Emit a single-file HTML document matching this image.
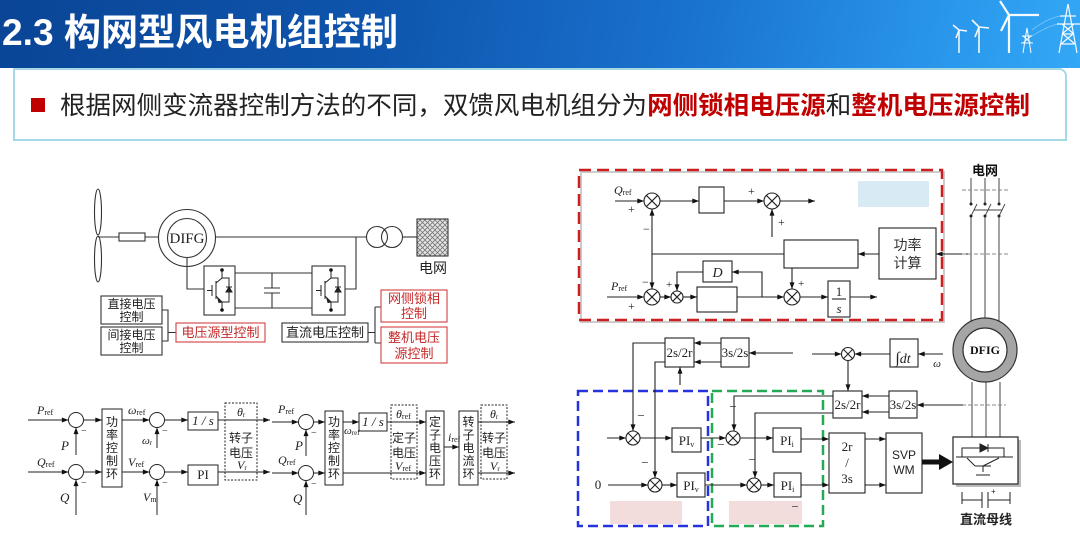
<!DOCTYPE html>
<html><head><meta charset="utf-8">
<style>
html,body{margin:0;padding:0;width:1080px;height:547px;overflow:hidden;background:#fff;}
.hdr{position:absolute;left:0;top:0;width:1080px;height:68px;background:linear-gradient(100deg,#0a4596 0%,#0e55ad 35%,#1a74d0 65%,#2a98ec 88%,#33a8f6 100%);}
.sub{position:absolute;left:13px;top:68px;width:1054px;height:73px;border:2px solid #a6d9e8;border-top-right-radius:8px;background:#fff;box-sizing:border-box;}
svg{position:absolute;left:0;top:0;}
</style></head><body>
<div class="hdr"></div>
<div class="sub"></div>
<svg width="1080" height="547" viewBox="0 0 1080 547" xmlns="http://www.w3.org/2000/svg">
<defs>
<marker id="a" viewBox="0 0 8 6" refX="8" refY="3" markerWidth="7" markerHeight="5" orient="auto" markerUnits="userSpaceOnUse"><path d="M0,0L8,3L0,6z" fill="#111"/></marker>
<pattern id="hatch" width="5" height="5" patternUnits="userSpaceOnUse"><rect width="5" height="5" fill="#e4e4e4"/><path d="M0,0L5,5M5,0L0,5" stroke="#777" stroke-width="0.8"/></pattern>
<g id="conv" fill="none" stroke="#222" stroke-width="1">
<path d="M18,4V12L12,17M12,15V33M12,30L18,36V44M8,19V30M3,24.5H8M18,12H25V36H18M22,21H28"/>
<path d="M22,26H28L25,21z" fill="#222"/>
<path d="M14,33L18,36L15,36.5z" fill="#222"/>
<circle cx="18" cy="4" r="1.8" fill="#111" stroke="none"/>
<circle cx="18" cy="44" r="1.8" fill="#111" stroke="none"/>
</g>
</defs>

<!-- header icons -->
<g stroke="#fff" fill="none" opacity="0.95">
<path d="M959,30V53M959,30L953,25M959,30L967,31M959,30L956,38" stroke-width="1.5"/>
<path d="M979,27V53M979,27L972,20M979,27L989,28M979,27L975,37" stroke-width="1.6"/>
<path d="M1009,15V53M1009,15L1000,1M1009,15L1039,15M1009,15L1001,31" stroke-width="2.2"/>
<path d="M1027,28L1023,53M1027,28L1031,53M1022,36H1032M1021,43H1033M1023,36L1031,43M1031,36L1023,43" stroke-width="1"/>
<path d="M1068,4L1059,53M1068,4L1077,53M1060,16H1076M1057,24H1080M1063,34H1073M1061,44H1075M1063,34L1075,44M1073,34L1061,44M1062,24L1074,34M1074,24L1062,34" stroke-width="1.2"/>
<path d="M1032,30Q1048,18 1060,16M1032,36Q1048,26 1058,24" stroke-width="0.6" opacity="0.6"/>
</g>

<!-- title -->
<text x="2" y="45" font-family="Liberation Sans,Noto Sans CJK SC,sans-serif" font-size="37" font-weight="bold" fill="#fff" textLength="396" lengthAdjust="spacingAndGlyphs">2.3 构网型风电机组控制</text>
<!-- subtitle -->
<rect x="31" y="98" width="14" height="14" fill="#c00000"/>
<text x="60" y="114" font-family="Liberation Sans,Noto Sans CJK SC,sans-serif" font-size="25" fill="#222" textLength="970" lengthAdjust="spacingAndGlyphs">根据网侧变流器控制方法的不同，双馈风电机组分为<tspan fill="#c00000" font-weight="bold">网侧锁相电压源</tspan>和<tspan fill="#c00000" font-weight="bold">整机电压源控制</tspan></text>

<!-- ===== top-left DFIG system ===== -->
<g fill="none" stroke="#333" stroke-width="1.1">
<ellipse cx="98" cy="212" rx="3.5" ry="23" fill="#fff"/>
<ellipse cx="98" cy="259" rx="3.5" ry="23" fill="#fff"/>
<path d="M98,237H119M145,237H159"/>
<rect x="119" y="233" width="26" height="8" fill="#fff"/>
<circle cx="187" cy="238" r="28.5" fill="#fff"/>
<circle cx="187" cy="238" r="19.5"/>
<path d="M215.5,237H366.5M356,237V289H345M187,257.5V289H204"/>
<circle cx="377" cy="237" r="10.5"/>
<circle cx="392" cy="237" r="10.5"/>
<path d="M402.5,237H417"/>
<rect x="417" y="219" width="31" height="37" fill="url(#hatch)"/>
<rect x="204" y="266" width="31" height="49"/>
<rect x="312" y="266" width="33" height="49"/>
<path d="M235,273H312M235,308H312M272,273V288M264,288H280M264,293H280M272,293V308"/>
<rect x="101" y="296" width="61" height="28"/>
<rect x="101" y="327" width="61" height="28"/>
<path d="M162,310H168V341H162M168,332.5H176"/>
<rect x="176" y="323" width="89" height="19" stroke="#d04040"/>
<rect x="282" y="323" width="86" height="19"/>
<path d="M368,332.5H375M375,307V343M375,307H381M375,343H381"/>
<rect x="381" y="290" width="66" height="32" stroke="#d04040"/>
<rect x="381" y="327" width="66" height="36" stroke="#d04040"/>
</g>
<use href="#conv" x="204" y="266"/>
<use href="#conv" x="313" y="266"/>
<g font-family="Liberation Sans,Noto Sans CJK SC,sans-serif" fill="#222" text-anchor="middle">
<text x="187" y="243" font-family="Liberation Serif,serif" font-size="15">DIFG</text>
<text x="433" y="273" font-size="14">电网</text>
<text x="131.5" y="308" font-size="12">直接电压</text>
<text x="131.5" y="321" font-size="12">控制</text>
<text x="131.5" y="339" font-size="12">间接电压</text>
<text x="131.5" y="352" font-size="12">控制</text>
<text x="220.5" y="337" font-size="13" fill="#c62828">电压源型控制</text>
<text x="325" y="337" font-size="13">直流电压控制</text>
<text x="414" y="303" font-size="13" fill="#c62828">网侧锁相</text>
<text x="414" y="318" font-size="13" fill="#c62828">控制</text>
<text x="414" y="342" font-size="13" fill="#c62828">整机电压</text>
<text x="414" y="358" font-size="13" fill="#c62828">源控制</text>
</g>

<!-- ===== bottom-left diagram 1 ===== -->
<g fill="none" stroke="#222" stroke-width="1">
<path d="M28,420H68.5" marker-end="url(#a)"/>
<circle cx="76" cy="420" r="7.5"/>
<path d="M76,455V427.5" marker-end="url(#a)"/>
<path d="M83.5,420H102" marker-end="url(#a)"/>
<rect x="102" y="409" width="20" height="78"/>
<path d="M122,420H149.5" marker-end="url(#a)"/>
<circle cx="157" cy="420" r="7.5"/>
<path d="M157,448V427.5" marker-end="url(#a)"/>
<path d="M164.5,420H188" marker-end="url(#a)"/>
<rect x="188" y="412" width="30" height="18"/>
<path d="M218,420H270" marker-end="url(#a)"/>
<rect x="225" y="403" width="32" height="77" stroke-dasharray="2,1.5"/>
<path d="M28,472H68.5" marker-end="url(#a)"/>
<circle cx="76" cy="472" r="7.5"/>
<path d="M76,515V479.5" marker-end="url(#a)"/>
<path d="M83.5,472H102" marker-end="url(#a)"/>
<path d="M122,472H149.5" marker-end="url(#a)"/>
<circle cx="157" cy="472" r="7.5"/>
<path d="M157,515V479.5" marker-end="url(#a)"/>
<path d="M164.5,472H188" marker-end="url(#a)"/>
<rect x="188" y="465" width="30" height="20"/>
<path d="M218,472H270" marker-end="url(#a)"/>
</g>
<g font-family="Liberation Serif,serif" font-style="italic" font-size="12" fill="#222">
<text x="37" y="414">P<tspan font-size="8" dy="1" font-style="normal">ref</tspan></text>
<text x="61" y="450" font-size="13">P</text>
<text x="81" y="434" font-style="normal" font-size="10">−</text>
<text x="128" y="414">ω<tspan font-size="8" dy="1" font-style="normal">ref</tspan></text>
<text x="142" y="444" font-size="11">ω<tspan font-size="7" dy="1" font-style="normal">r</tspan></text>
<text x="162" y="434" font-style="normal" font-size="10">−</text>
<text x="203" y="425" text-anchor="middle" font-size="13">1 / s</text>
<text x="237" y="416">θ<tspan font-size="7" dy="1" font-style="normal">r</tspan></text>
<text x="237" y="469">V<tspan font-size="7" dy="1" font-style="normal">r</tspan></text>
<text x="37" y="466">Q<tspan font-size="8" dy="1" font-style="normal">ref</tspan></text>
<text x="60" y="502" font-size="13">Q</text>
<text x="81" y="486" font-style="normal" font-size="10">−</text>
<text x="128" y="466">V<tspan font-size="8" dy="1" font-style="normal">ref</tspan></text>
<text x="143" y="501">V<tspan font-size="8" dy="1" font-style="normal">m</tspan></text>
<text x="162" y="486" font-style="normal" font-size="10">−</text>
<text x="203" y="479" text-anchor="middle" font-style="normal" font-size="13">PI</text>
</g>
<g font-family="Liberation Sans,Noto Sans CJK SC,sans-serif" font-size="12" fill="#222" text-anchor="middle">
<text x="112" y="426">功</text><text x="112" y="439">率</text><text x="112" y="452">控</text><text x="112" y="465">制</text><text x="112" y="478">环</text>
<text x="241" y="442">转子</text><text x="241" y="457">电压</text>
</g>

<!-- ===== bottom-left diagram 2 ===== -->
<g fill="none" stroke="#222" stroke-width="1">
<path d="M272,422H298.5" marker-end="url(#a)"/>
<circle cx="306" cy="422" r="7.5"/>
<path d="M306,456V429.5" marker-end="url(#a)"/>
<path d="M313.5,422H325" marker-end="url(#a)"/>
<rect x="325" y="411" width="18" height="74"/>
<path d="M343,422H359" marker-end="url(#a)"/>
<rect x="359" y="413" width="28" height="18"/>
<path d="M387,422H426" marker-end="url(#a)"/>
<rect x="391" y="405" width="26" height="74" stroke-dasharray="2,1.5"/>
<rect x="426" y="411" width="18" height="74"/>
<path d="M444,447H459" marker-end="url(#a)"/>
<rect x="459" y="411" width="19" height="74"/>
<rect x="481" y="405" width="26" height="74" stroke-dasharray="2,1.5"/>
<path d="M478,422H515" marker-end="url(#a)"/>
<path d="M478,473H515" marker-end="url(#a)"/>
<path d="M272,473H298.5" marker-end="url(#a)"/>
<circle cx="306" cy="473" r="7.5"/>
<path d="M306,515V480.5" marker-end="url(#a)"/>
<path d="M313.5,473H325" marker-end="url(#a)"/>
<path d="M343,473H426" marker-end="url(#a)"/>
</g>
<g font-family="Liberation Serif,serif" font-style="italic" font-size="12" fill="#222">
<text x="278" y="413">P<tspan font-size="8" dy="1" font-style="normal">ref</tspan></text>
<text x="295" y="450" font-size="13">P</text>
<text x="311" y="436" font-style="normal" font-size="10">−</text>
<text x="344" y="434" font-size="11">ω<tspan font-size="7" dy="1" font-style="normal">ref</tspan></text>
<text x="373" y="426" text-anchor="middle" font-size="13">1 / s</text>
<text x="396" y="418">θ<tspan font-size="8" dy="1" font-style="normal">ref</tspan></text>
<text x="395" y="470">V<tspan font-size="8" dy="1" font-style="normal">ref</tspan></text>
<text x="448" y="441">i<tspan font-size="8" dy="1" font-style="normal">ref</tspan></text>
<text x="490" y="418">θ<tspan font-size="7" dy="1" font-style="normal">r</tspan></text>
<text x="490" y="470">V<tspan font-size="7" dy="1" font-style="normal">r</tspan></text>
<text x="278" y="464">Q<tspan font-size="8" dy="1" font-style="normal">ref</tspan></text>
<text x="293" y="503" font-size="13">Q</text>
<text x="311" y="487" font-style="normal" font-size="10">−</text>
</g>
<g font-family="Liberation Sans,Noto Sans CJK SC,sans-serif" font-size="12" fill="#222" text-anchor="middle">
<text x="334" y="426">功</text><text x="334" y="439">率</text><text x="334" y="452">控</text><text x="334" y="465">制</text><text x="334" y="478">环</text>
<text x="404" y="442">定子</text><text x="404" y="457">电压</text>
<text x="435" y="426">定</text><text x="435" y="439">子</text><text x="435" y="452">电</text><text x="435" y="465">压</text><text x="435" y="478">环</text>
<text x="468.5" y="426">转</text><text x="468.5" y="439">子</text><text x="468.5" y="452">电</text><text x="468.5" y="465">流</text><text x="468.5" y="478">环</text>
<text x="494" y="442">转子</text><text x="494" y="457">电压</text>
</g>

<!-- ===== right top red box ===== -->
<rect x="581" y="172" width="363" height="150" fill="none" stroke="#ccc" stroke-width="2"/>
<rect x="579" y="170" width="363" height="150" fill="none" stroke="#cc1f1f" stroke-width="2.5" stroke-dasharray="12,6"/>
<rect x="858" y="181" width="71" height="26" fill="#d8eaf4"/>
<g fill="none" stroke="#222" stroke-width="1.1">
<path d="M615,201H644" marker-end="url(#a)"/>
<circle cx="652" cy="201" r="8"/><path d="M646.3,195.3L657.7,206.7M657.7,195.3L646.3,206.7"/>
<path d="M660,201H699" marker-end="url(#a)"/>
<rect x="699" y="187" width="25" height="26"/>
<path d="M724,201H764" marker-end="url(#a)"/>
<circle cx="772" cy="201" r="8"/><path d="M766.3,195.3L777.7,206.7M777.7,195.3L766.3,206.7"/>
<path d="M772,237V209" marker-end="url(#a)"/>
<path d="M780,201H815" marker-end="url(#a)"/>
<path d="M652,254V209" marker-end="url(#a)"/>
<path d="M652,254V289" marker-end="url(#a)"/>
<path d="M652,254H784"/>
<rect x="784" y="240" width="74" height="28"/>
<path d="M879,254H858" marker-end="url(#a)"/>
<rect x="879" y="228" width="57" height="51"/>
<path d="M971,254H936" marker-end="url(#a)"/>
<path d="M607,297H644" marker-end="url(#a)"/>
<circle cx="652" cy="297" r="8"/><path d="M646.3,291.3L657.7,302.7M657.7,291.3L646.3,302.7"/>
<path d="M660,297H671" marker-end="url(#a)"/>
<circle cx="677" cy="297" r="6"/><path d="M672.8,292.8L681.2,301.2M681.2,292.8L672.8,301.2"/>
<path d="M683,297H697" marker-end="url(#a)"/>
<rect x="697" y="287" width="40" height="25"/>
<path d="M737,297H784" marker-end="url(#a)"/>
<path d="M762,297V272H732" marker-end="url(#a)"/>
<rect x="703" y="261" width="29" height="21"/>
<path d="M703,272H677V291" marker-end="url(#a)"/>
<path d="M792,268V289" marker-end="url(#a)"/>
<circle cx="792" cy="297" r="8"/><path d="M786.3,291.3L797.7,302.7M797.7,291.3L786.3,302.7"/>
<path d="M800,297H828" marker-end="url(#a)"/>
<rect x="828" y="281" width="22" height="36"/>
<path d="M832,299H846"/>
<path d="M850,297H877" marker-end="url(#a)"/>
</g>
<g font-family="Liberation Serif,serif" font-size="12" fill="#222">
<text x="614" y="194" font-style="italic">Q<tspan font-size="8" dy="1" font-style="normal">ref</tspan></text>
<text x="628" y="213" font-size="12">+</text>
<text x="643" y="233" font-size="12">−</text>
<text x="748" y="195" font-size="12">+</text>
<text x="778" y="226" font-size="12">+</text>
<text x="642" y="286" font-size="12">−</text>
<text x="611" y="290" font-style="italic">P<tspan font-size="8" dy="1" font-style="normal">ref</tspan></text>
<text x="628" y="310" font-size="12">+</text>
<text x="666" y="288" font-size="11">+</text>
<text x="798" y="287" font-size="11">+</text>
<text x="717.5" y="277" text-anchor="middle" font-style="italic" font-size="14">D</text>
<text x="839" y="296" text-anchor="middle" font-size="13">1</text>
<text x="839" y="313" text-anchor="middle" font-style="italic" font-size="13">s</text>
</g>
<g font-family="Liberation Sans,Noto Sans CJK SC,sans-serif" font-size="14" fill="#333" text-anchor="middle">
<text x="907.5" y="250">功率</text>
<text x="907.5" y="268">计算</text>
</g>

<!-- ===== grid lines and DFIG ===== -->
<g fill="none" stroke="#444" stroke-width="1">
<path d="M971,178V203M985,178V203M999,178V203"/>
<path d="M971,216V324M985,216V318M999,216V324"/>
<path d="M971,216L977,204M985,216L991,204M999,216L1005,204M974,210H1002" stroke-width="0.9"/>
<path d="M962,190H1008M962,254H1008" stroke="#888" stroke-dasharray="4,2"/>
<path d="M972,382V437M986,382V437M1000,382V437"/>
<path d="M962,405H1006" stroke="#888" stroke-dasharray="4,2"/>
</g>
<g fill="#222"><circle cx="971" cy="204" r="1.5"/><circle cx="985" cy="204" r="1.5"/><circle cx="999" cy="204" r="1.5"/><circle cx="971" cy="216" r="1.5"/><circle cx="985" cy="216" r="1.5"/><circle cx="999" cy="216" r="1.5"/></g>
<circle cx="985" cy="350" r="27" fill="#fff" stroke="#a5a5a5" stroke-width="10"/>
<circle cx="985" cy="350" r="32" fill="none" stroke="#333" stroke-width="1.2"/>
<circle cx="985" cy="350" r="22" fill="#fff" stroke="#333" stroke-width="1.2"/>
<text x="985" y="354" text-anchor="middle" font-family="Liberation Serif,serif" font-weight="bold" font-size="12" fill="#111">DFIG</text>
<text x="985" y="175" text-anchor="middle" font-family="Liberation Sans,Noto Sans CJK SC,sans-serif" font-weight="bold" font-size="13" fill="#111">电网</text>

<!-- ===== right bottom ===== -->
<rect x="578" y="391" width="130" height="135" fill="none" stroke="#2433dd" stroke-width="2.5" stroke-dasharray="10,5"/>
<rect x="712" y="391" width="111" height="135" fill="none" stroke="#22aa55" stroke-width="2.5" stroke-dasharray="10,5"/>
<rect x="610" y="501" width="72" height="23" fill="#f2dcdc"/>
<rect x="729" y="501" width="73" height="23" fill="#f2dcdc"/>
<g fill="none" stroke="#222" stroke-width="1.1">
<rect x="665" y="338" width="29" height="29"/>
<rect x="721" y="338" width="28" height="29"/>
<path d="M721,343H694" marker-end="url(#a)"/>
<path d="M721,362H694" marker-end="url(#a)"/>
<path d="M793,353H749" marker-end="url(#a)"/>
<path d="M680,385V367" marker-end="url(#a)"/>
<path d="M665,343H633V431" marker-end="url(#a)"/>
<path d="M665,362H655V478" marker-end="url(#a)"/>
<path d="M607,438H626" marker-end="url(#a)"/>
<circle cx="633" cy="438" r="7"/><path d="M628,433L638,443M638,433L628,443"/>
<path d="M640,438H672" marker-end="url(#a)"/>
<rect x="672" y="428" width="29" height="24"/>
<path d="M701,438H726" marker-end="url(#a)"/>
<circle cx="733" cy="438" r="7"/><path d="M728,433L738,443M738,433L728,443"/>
<path d="M740,438H773" marker-end="url(#a)"/>
<rect x="773" y="428" width="28" height="24"/>
<path d="M801,439H829" marker-end="url(#a)"/>
<path d="M608,485H648" marker-end="url(#a)"/>
<circle cx="655" cy="485" r="7"/><path d="M650,480L660,490M660,480L650,490"/>
<path d="M662,485H677" marker-end="url(#a)"/>
<rect x="677" y="473" width="28" height="24"/>
<path d="M705,485H747" marker-end="url(#a)"/>
<circle cx="754" cy="485" r="7"/><path d="M749,480L759,490M759,480L749,490"/>
<path d="M761,485H774" marker-end="url(#a)"/>
<rect x="774" y="473" width="27" height="24"/>
<path d="M801,485H829" marker-end="url(#a)"/>
<rect x="833" y="391" width="29" height="27"/>
<rect x="889" y="391" width="28" height="27"/>
<path d="M889,396H862" marker-end="url(#a)"/>
<path d="M889,412H862" marker-end="url(#a)"/>
<path d="M963,405H917" marker-end="url(#a)"/>
<path d="M833,396H734V431" marker-end="url(#a)"/>
<path d="M833,413H755V478" marker-end="url(#a)"/>
<path d="M812,354H841.5" marker-end="url(#a)"/>
<circle cx="848" cy="354" r="6.5"/><path d="M843.4,349.4L852.6,358.6M852.6,349.4L843.4,358.6"/>
<path d="M890,354H854.5" marker-end="url(#a)"/>
<path d="M848,360.5V391" marker-end="url(#a)"/>
<rect x="890" y="339" width="28" height="28"/>
<path d="M943,354H918" marker-end="url(#a)"/>
<rect x="829" y="433" width="36" height="60"/>
<path d="M865,439H886" marker-end="url(#a)"/>
<path d="M865,485H886" marker-end="url(#a)"/>
<rect x="886" y="433" width="36" height="60"/>
</g>
<!-- thick arrow -->
<path d="M922,462H941" stroke="#111" stroke-width="5"/>
<path d="M939,454L953,462L939,470z" fill="#111"/>
<rect x="956" y="440" width="65" height="47" fill="#bbb"/>
<rect x="953" y="437" width="65" height="47" fill="#fff" stroke="#333" stroke-width="1.3"/>
<g fill="none" stroke="#222" stroke-width="1">
<path d="M962,457V448H1004V457M956,457H1013M975,466H991M983,466V472M976,475H990"/>
<path d="M975,466L967,458M983,466L999,458"/>
<path d="M980,444L988,448L980,452z" fill="#222"/>
<path d="M988,444V452"/>
<path d="M962,492V504M1010,492V504M962,500H982M988,500H1010M982,492V508M988,492V508"/>
</g>
<text x="991" y="494" font-family="Liberation Sans,sans-serif" font-size="8" fill="#222">+</text>
<g font-family="Liberation Serif,serif" font-size="13" fill="#222" text-anchor="middle">
<text x="679.5" y="357">2s/2r</text>
<text x="735" y="357">3s/2s</text>
<text x="847.5" y="409">2s/2r</text>
<text x="903" y="409">3s/2s</text>
<text x="686.5" y="445">PI<tspan font-size="8" dy="2">v</tspan></text>
<text x="691" y="490">PI<tspan font-size="8" dy="2">v</tspan></text>
<text x="787" y="445">PI<tspan font-size="8" dy="2">i</tspan></text>
<text x="787.5" y="490">PI<tspan font-size="8" dy="2">i</tspan></text>
<text x="847" y="451">2r</text>
<text x="847" y="467">/</text>
<text x="847" y="483">3s</text>
<text x="903" y="363" font-style="italic" font-size="16">∫<tspan font-size="14">dt</tspan></text>
<text x="937" y="367" font-style="italic" font-size="11">ω</text>
<text x="598" y="489" font-size="13">0</text>
<text x="641" y="420">−</text>
<text x="645" y="467">−</text>
<text x="733" y="411">−</text>
<text x="721" y="449">−</text>
<text x="752" y="464">−</text>
<text x="795" y="511">−</text>
</g>
<g font-family="Liberation Sans,Noto Sans CJK SC,sans-serif" fill="#222" text-anchor="middle">
<text x="904" y="459" font-size="12">SVP</text>
<text x="904" y="474" font-size="12">WM</text>
<text x="986" y="524" font-size="13" font-weight="bold">直流母线</text>
</g>
</svg>
</body></html>
